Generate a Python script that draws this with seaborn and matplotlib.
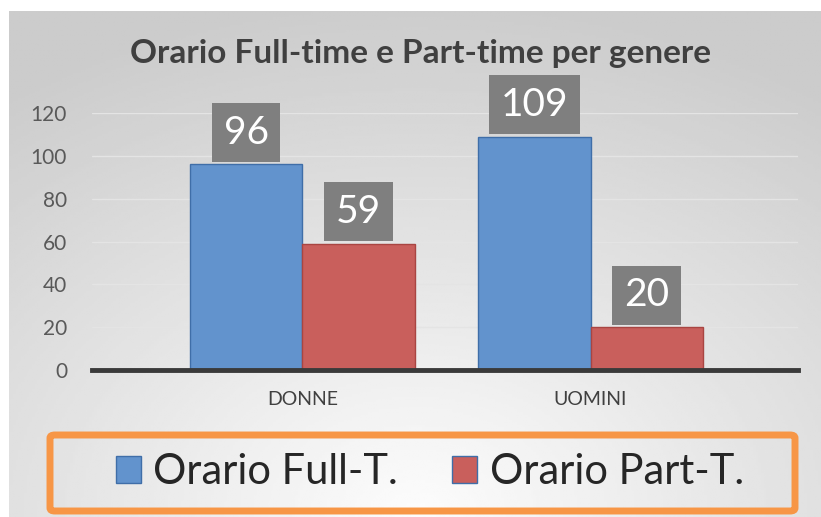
import numpy as np
import pandas as pd
import seaborn as sns
import matplotlib.pyplot as plt
from matplotlib.patches import FancyBboxPatch

sns.set_style('white')
plt.rcParams['font.family'] = ['Lato', 'DejaVu Sans']

# dati
generi = ['DONNE', 'UOMINI']
serie = ['Orario Full-T.', 'Orario Part-T.']
full_time = [96, 109]
part_time = [59, 20]
y_ticks = [0, 20, 40, 60, 80, 100, 120]

df = pd.DataFrame({
    'genere': generi * 2,
    'tipo': [serie[0]] * 2 + [serie[1]] * 2,
    'valore': full_time + part_time,
})

fig = plt.figure(figsize=(8.21, 5.17), dpi=100)

# sfondo grigio sfumato
bg = fig.add_axes([0, 0, 1, 1], zorder=-10)
bg.set_xlim(0, 1)
bg.set_ylim(0, 1)
bg.axis('off')
yy, xx = np.mgrid[0:1:200j, 0:1:300j]
r = np.sqrt(((xx - 0.5) * 1.3) ** 2 + ((yy - 1.0) * 1.1) ** 2)
grad = np.clip(0.99 - 0.17 * r, 0.80, 0.99)
bg.imshow(grad, cmap='gray', vmin=0, vmax=1, origin='upper',
          extent=[9 / 821, 1, 0, 1 - 11 / 517], aspect='auto')

ax = fig.add_axes([92 / 821, 1 - 370 / 517, 706 / 821, 257 / 517])
ax.patch.set_alpha(0)

colori = ['#6293cd', '#c95f5c']
sns.barplot(data=df, x='genere', y='valore', hue='tipo', palette=colori,
            width=0.78, saturation=1, ax=ax, edgecolor='#3f6ea8', linewidth=1.0)
for bar in ax.containers[1]:
    bar.set_edgecolor('#a94542')

for cont in ax.containers:
    ax.bar_label(cont, fmt='%d', padding=10, fontsize=28, color='white',
                 bbox=dict(facecolor='#7f7f7f', edgecolor='none', boxstyle='square,pad=0.3'))

ax.set_ylim(0, 120)
ax.set_xlim(-0.73, 1.72)
ax.set_yticks(y_ticks)
ax.yaxis.grid(True, color='#e4e4e4', linewidth=1)
ax.set_axisbelow(True)
ax.tick_params(axis='y', length=0, pad=18, labelsize=15, labelcolor='#595959')
ax.tick_params(axis='x', length=0, pad=15, labelsize=14, labelcolor='#404040')
ax.set_xlabel('')
ax.set_ylabel('')
for s in ['top', 'right', 'left']:
    ax.spines[s].set_visible(False)
ax.spines['bottom'].set_color('#3a3a3a')
ax.spines['bottom'].set_linewidth(3.5)

fig.text(0.512, 1 - 54 / 517, 'Orario Full-time e Part-time per genere',
         ha='center', va='center', fontsize=24, fontweight='bold', color='#404040')

# riquadro arancione della legenda
box = FancyBboxPatch((50 / 821, 6 / 517), 745 / 821, 76 / 517,
                     boxstyle='round,pad=0,rounding_size=0.006',
                     transform=fig.transFigure, facecolor='none',
                     edgecolor='#f79646', linewidth=5, zorder=5)
fig.patches.append(box)

handles, labels = ax.get_legend_handles_labels()
ax.get_legend().remove()
fig.legend(handles, labels, loc='center', bbox_to_anchor=(430 / 821, 1 - 472 / 517),
           ncol=2, frameon=False, fontsize=30, handlelength=0.6, handleheight=0.6,
           handletextpad=0.3, columnspacing=1.3)

fig.savefig('out.png', dpi=100)
